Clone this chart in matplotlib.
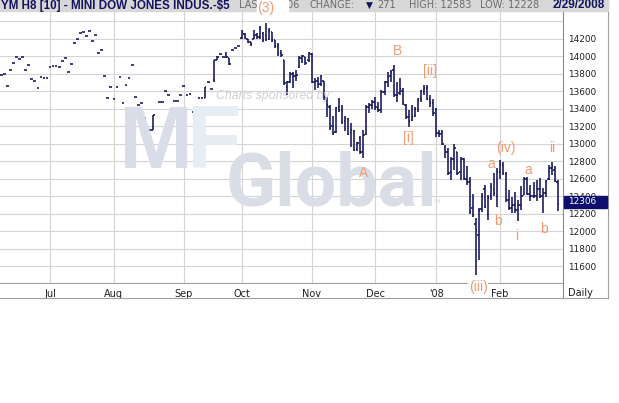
import matplotlib
matplotlib.use("Agg")
import matplotlib.pyplot as plt
from matplotlib.collections import LineCollection
from matplotlib.patches import Rectangle
from matplotlib.lines import Line2D
import numpy as np
import pandas as pd

# ---- data (YM H8 daily) ----
holidays = ["2007-07-04", "2007-09-03", "2007-11-22", "2007-12-25",
            "2008-01-01", "2008-01-21", "2008-02-18"]

close = [
    # Jun
    13780, 13790, 13660, 13840, 13920, 13990, 13970, 13990, 13840, 13900, 13740, 13710, 13640, 13760, 13750, 13750,
    # Jul
    13870, 13890, 13890, 13880, 13940, 13980, 13820, 13910, 14150, 14200, 14260, 14270, 14230, 14290, 14170, 14240,
    14040, 14070, 13770, 13520, 13650,
    # Aug
    13510, 13650, 13760, 13460, 13670, 13750, 13900, 13530, 13440, 13460, 13290, 13130, 13150, 13330, None, 13470,
    13470, 13600, 13550, 13300, 13490, 13490, 13560,
    # Sep
    13660, 13550, 13570, 13360, 13360, 13520, 13520, 13650, 13700, 13620, 13950, 13990, 14020, 13990, 13990, 13910,
    14070, 14090, 14110,
    # Oct
    14280, 14210, 14160, 14140, 14240, 14220, 14320, 14180, 14190, 14290, 14180, 14110, 14040, 14010, 13690, 13700,
    13800, 13770, 13780, 13980, 14000, 13920, 14040,
    # Nov
    13700, 13720, 13680, 13770, 13530, 13440, 13180, 13120, 13410, 13380, 13250, 13290, 13110, 13150, 12930, 13010,
    12900, 13100, 13420, 13440, 13480,
    # Dec
    13420, 13380, 13590, 13700, 13760, 13820, 13550, 13560, 13620, 13460, 13300, 13260, 13300, 13390, 13500, 13600,
    13640, 13510, 13460, 13350,
    # Jan
    13120, 13110, 12990, 12900, 12660, 12820, 12950, 12660, 12820, 12600, 12560, 12230, 12180, 12010, 12240, 12400,
    12280, 12380, 12500, 12430, 12680,
    # Feb
    12770, 12660, 12360, 12260, 12300, 12240, 12300, 12400, 12590, 12420, 12400, 12400, 12480, 12400, 12440, 12570,
    12720, 12740, 12577, 12306,
]

# None = single print (open = high = low = close)
open_ = (
    [None] * 16 + [None] * 21
    + [None] * 13 + [13150] + [None] * 9
    + [None] * 7 + [13520, None, None, 13730, 13950, None, None, 14020, 13980, None, None, None]
    + [14210, 14250, 14190, 14160, 14200, 14240, 14220, 14260, 14240, 14200, 14270, 14180, 14120, 14040, 13950, 13650,
       13700, 13790, 13770, 13870, 13980, 13990, 13950]
    + [14020, 13700, 13720, 13680, 13720, 13520, 13420, 13200, 13130, 13420, 13380, 13260, 13280, 13120, 13140, 12940,
       13060, 12900, 13110, 13420, 13440]
    + [13480, 13410, 13380, 13590, 13700, 13770, 13840, 13560, 13580, 13600, 13440, 13300, 13270, 13320, 13400, 13510,
       13600, 13640, 13510, 13460]
    + [13390, 13120, 13120, 12950, 12900, 12680, 12820, 12900, 12680, 12820, 12600, 12560, 12260, 12080, 11960, 12250,
       12480, 12200, 12400, 12480, 12400]
    + [12680, 12760, 12650, 12360, 12260, 12300, 12240, 12300, 12410, 12590, 12420, 12400, 12400, 12480, 12400, 12440,
       12590, 12720, 12700, 12560]
)
high = (
    [None] * 16 + [None] * 21
    + [None] * 13 + [13330] + [None] * 9
    + [None] * 7 + [13650, None, None, 13950, 14000, None, None, 14050, 13980, None, None, None]
    + [14300, 14260, 14190, 14160, 14300, 14260, 14340, 14270, 14380, 14320, 14270, 14180, 14150, 14070, 13960, 13720,
       13820, 13820, 13840, 14000, 14010, 13990, 14050]
    + [14030, 13750, 13760, 13780, 13720, 13530, 13440, 13310, 13420, 13520, 13440, 13320, 13290, 13230, 13150, 13020,
       13085, 13150, 13440, 13460, 13500]
    + [13530, 13480, 13610, 13720, 13820, 13840, 13900, 13700, 13750, 13630, 13450, 13380, 13440, 13420, 13520, 13610,
       13670, 13670, 13560, 13510]
    + [13410, 13150, 13150, 12980, 12950, 12850, 13000, 12900, 12850, 12840, 12740, 12620, 12420, 12150, 12260, 12440,
       12530, 12410, 12550, 12660, 12720]
    + [12810, 12790, 12680, 12470, 12390, 12450, 12350, 12510, 12620, 12620, 12530, 12560, 12580, 12610, 12490, 12580,
       12750, 12790, 12740, 12583]
)
low = (
    [None] * 16 + [None] * 21
    + [None] * 13 + [13150] + [None] * 9
    + [None] * 7 + [13520, None, None, 13700, 13950, None, None, 13980, 13900, None, None, None]
    + [14200, 14190, 14150, 14120, 14190, 14200, 14200, 14160, 14170, 14180, 14160, 14090, 14000, 13990, 13670, 13550,
       13690, 13630, 13710, 13860, 13920, 13900, 13930]
    + [13690, 13610, 13630, 13660, 13500, 13300, 13150, 13100, 13120, 13360, 13220, 13140, 13100, 12960, 12920, 12910,
       12880, 12840, 13100, 13350, 13400]
    + [13380, 13360, 13350, 13560, 13650, 13700, 13530, 13480, 13550, 13440, 13280, 13190, 13260, 13300, 13360, 13470,
       13560, 13500, 13420, 13320]
    + [13080, 13080, 12980, 12830, 12640, 12580, 12700, 12640, 12580, 12580, 12530, 12200, 12160, 11500, 11670, 12220,
       12260, 12130, 12350, 12400, 12280]
    + [12600, 12640, 12330, 12240, 12210, 12210, 12110, 12240, 12410, 12410, 12340, 12380, 12340, 12380, 12210, 12390,
       12580, 12640, 12560, 12228]
)

month_names = ["Jul", "Aug", "Sep", "Oct", "Nov", "Dec", "'08", "Feb"]
price_ticks = [11600, 11800, 12000, 12200, 12400, 12600, 12800, 13000,
               13200, 13400, 13600, 13800, 14000, 14200]
last_price = 12306

# wave labels: (text, x px, y px)
waves = [("(3)", 266, 8), ("B", 397, 51), ("[ii]", 430, 71), ("[i]", 408, 138),
         ("A", 364, 173), ("(iv)", 506, 148), ("a", 491, 164), ("a", 528, 170),
         ("ii", 552, 148), ("b", 498, 221), ("i", 517, 236), ("b", 544, 229),
         ("(iii)", 478, 287)]

W, H = 619, 403
plt.rcParams["font.family"] = "DejaVu Sans"
fig = plt.figure(figsize=(W / 100, H / 100), dpi=100)
fig.patch.set_facecolor("white")


def fx(px):
    return px / W


def fy(py):
    return 1 - py / H


days = pd.bdate_range("2007-06-08", "2008-02-29")
days = days[~days.isin(pd.to_datetime(holidays))]
n = len(days)
starts = [k for k in range(1, n) if days[k].month != days[k - 1].month]

top_px, bot_px, right_px = 10, 283, 563
ax = fig.add_axes([0, fy(bot_px), fx(right_px), (bot_px - top_px) / H])
ax.set_facecolor("none")
ppx = 200 / 17.5  # price per pixel
ax.set_ylim(14200 - (bot_px - 38.5) * ppx, 14200 + (38.5 - top_px) * ppx)
ax.set_xlim(-0.46, 184.7)

grid_c = "#d4d4d4"
for p in range(11600, 14401, 200):
    ax.axhline(p, color=grid_c, lw=0.8, zorder=1)
for s in starts:
    ax.axvline(s, color=grid_c, lw=0.8, zorder=1)

# watermark
fig.text(fx(216), fy(96), "Charts sponsored by:", fontsize=8.8, style="italic",
         family="Liberation Sans", color="#cdd0d7", va="center", zorder=0)
fig.text(fx(119), fy(168), "M", fontsize=64, weight="bold", family="Liberation Sans",
         color="#d8dde8", va="baseline", zorder=0)
fig.text(fx(187), fy(168), "F", fontsize=64, weight="bold", family="Liberation Sans",
         color="#e6eef4", va="baseline", zorder=0)
fig.text(fx(226), fy(205), "Global", fontsize=53, weight="bold", family="Roboto",
         color="#d9dde6", va="baseline", zorder=0)
fig.text(fx(434), fy(203), "SM", fontsize=3.5, color="#d5dae4", va="baseline", zorder=0)

# OHLC bars
segs = []
for i in range(n):
    c = close[i]
    if c is None:
        continue
    o = open_[i] if open_[i] is not None else c
    h = high[i] if high[i] is not None else c
    l = low[i] if low[i] is not None else c
    if h > l:
        segs.append([(i, l), (i, h)])
    segs.append([(i - 0.45, o), (i, o)])
    segs.append([(i, c), (i + 0.45, c)])
ax.add_collection(LineCollection(segs, colors="#14145a", linewidths=1.15, zorder=3))

for side in ["left", "top"]:
    ax.spines[side].set_visible(False)
ax.spines["bottom"].set_color("#a0a0a0")
ax.spines["right"].set_color("#8a8a8a")
ax.spines["right"].set_linewidth(0.8)
ax.spines["bottom"].set_linewidth(0.8)

ax.yaxis.tick_right()
ax.set_yticks(price_ticks)
ax.set_yticklabels([str(p) for p in price_ticks])
ax.tick_params(axis="y", length=0, pad=3.8, labelsize=6.4, labelcolor="#202020")
ax.set_xticks(starts)
ax.set_xticklabels(month_names)
ax.tick_params(axis="x", length=0, pad=4.5, labelsize=7, labelcolor="#202020")

fig.text(fx(568), fy(293), "Daily", fontsize=7, color="#202020", va="center")

# outer frame lines
fig.add_artist(Line2D([fx(right_px), fx(right_px)], [fy(bot_px), fy(298)], color="#8a8a8a", lw=0.8))
fig.add_artist(Line2D([0, fx(608)], [fy(298), fy(298)], color="#a0a0a0", lw=0.8))
fig.add_artist(Line2D([fx(608), fx(608)], [fy(0), fy(298)], color="#a0a0a0", lw=0.8))

# last price box
fig.add_artist(Rectangle((fx(564), fy(208)), fx(43), 12 / H, color="#0e0e6e", zorder=5))
fig.text(fx(568), fy(202), str(last_price), fontsize=6.4, color="white", va="center", zorder=6)

# header band
fig.add_artist(Rectangle((0, fy(10.5)), fx(608), 10.5 / H, color="#d7d7d7", zorder=4))
navy = "#14145e"
fig.text(fx(1), fy(5.5), "YM H8 [10] - MINI DOW JONES INDUS.-$5", fontsize=8.4, weight="bold",
         family="Liberation Sans", color=navy, va="center", zorder=6)
gray = "#6c6c6c"
fig.text(fx(239), fy(5.5), "LAST: " + str(last_price), fontsize=7, color=gray, va="center", zorder=6)
fig.text(fx(309), fy(5.5), "CHANGE:", fontsize=7, color=gray, va="center", zorder=6)
fig.text(fx(366), fy(5.5), "\u25bc", fontsize=6.5, color=navy, va="center", zorder=6)
fig.text(fx(377), fy(5.5), "271", fontsize=7, color=gray, va="center", zorder=6)
fig.text(fx(409), fy(5.5), "HIGH: 12583", fontsize=7, color=gray, va="center", zorder=6)
fig.text(fx(480), fy(5.5), "LOW: 12228", fontsize=7, color=gray, va="center", zorder=6)
fig.text(fx(605), fy(5.5), "2/29/2008", fontsize=8.5, weight="bold", family="Liberation Sans",
         color=navy, va="center", ha="right", zorder=6)

# white box behind (3)
fig.add_artist(Rectangle((fx(257), fy(10.5)), fx(31), 10.5 / H, color="white", zorder=7))

wave_c = "#f29b72"
for t, x, y in waves:
    kw = {}
    if t == "(iii)":
        kw["bbox"] = dict(facecolor="white", edgecolor="none", pad=0.5)
    fig.text(fx(x), fy(y), t, fontsize=10, family="Liberation Sans", color=wave_c,
             ha="center", va="center", zorder=8, **kw)

fig.savefig("out.png", dpi=100)
